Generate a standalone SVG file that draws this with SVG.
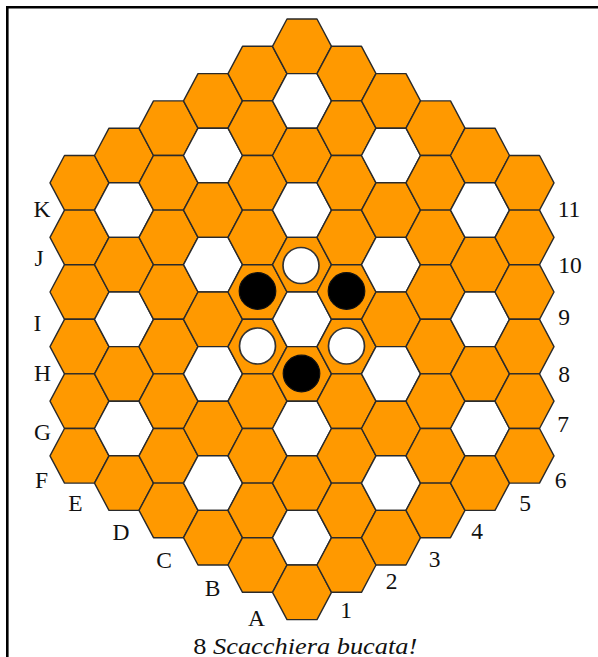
<svg xmlns="http://www.w3.org/2000/svg" xmlns:xlink="http://www.w3.org/1999/xlink" width="598" height="657" viewBox="0 0 598 657">
<style>
.cell{fill:#FF9900;stroke:#2a2a2a;stroke-width:1.4;stroke-linejoin:round}
.hole{fill:#FFFFFF;stroke:#2a2a2a;stroke-width:1.4;stroke-linejoin:round}
.bs{fill:#000000;stroke:#111;stroke-width:1.2}
.ws{fill:#FFFFFF;stroke:#333;stroke-width:1.7}
.lbl{font-family:"Liberation Serif","DejaVu Serif",serif;font-size:23.5px;fill:#111;text-anchor:middle}
.cap{font-family:"Liberation Serif","DejaVu Serif",serif;font-size:24px;fill:#111;text-anchor:middle}
</style>
<defs>
<polygon id="hex" points="-29.5,0 -15,-27.3 15,-27.3 29.5,0 15,27.3 -15,27.3"/>
</defs>
<path id="frame" d="M7.3,657 V7.3 H598" fill="none" stroke="#000" stroke-width="2.6"/>
<g id="board">
<g id="col-m5">
<use href="#hex" class="cell" x="79.5" y="182.8"/><use href="#hex" class="cell" x="79.5" y="237.4"/><use href="#hex" class="cell" x="79.5" y="292.0"/><use href="#hex" class="cell" x="79.5" y="346.6"/><use href="#hex" class="cell" x="79.5" y="401.2"/><use href="#hex" class="cell" x="79.5" y="455.8"/>
</g>
<g id="col-m4">
<use href="#hex" class="cell" x="124" y="155.5"/><use href="#hex" class="hole" x="124" y="210.1"/><use href="#hex" class="cell" x="124" y="264.7"/><use href="#hex" class="hole" x="124" y="319.3"/><use href="#hex" class="cell" x="124" y="373.9"/><use href="#hex" class="hole" x="124" y="428.5"/><use href="#hex" class="cell" x="124" y="483.1"/>
</g>
<g id="col-m3">
<use href="#hex" class="cell" x="168.5" y="128.2"/><use href="#hex" class="cell" x="168.5" y="182.8"/><use href="#hex" class="cell" x="168.5" y="237.4"/><use href="#hex" class="cell" x="168.5" y="292.0"/><use href="#hex" class="cell" x="168.5" y="346.6"/><use href="#hex" class="cell" x="168.5" y="401.2"/><use href="#hex" class="cell" x="168.5" y="455.8"/><use href="#hex" class="cell" x="168.5" y="510.4"/>
</g>
<g id="col-m2">
<use href="#hex" class="cell" x="213" y="100.9"/><use href="#hex" class="hole" x="213" y="155.5"/><use href="#hex" class="cell" x="213" y="210.1"/><use href="#hex" class="hole" x="213" y="264.7"/><use href="#hex" class="cell" x="213" y="319.3"/><use href="#hex" class="hole" x="213" y="373.9"/><use href="#hex" class="cell" x="213" y="428.5"/><use href="#hex" class="hole" x="213" y="483.1"/><use href="#hex" class="cell" x="213" y="537.7"/>
</g>
<g id="col-m1">
<use href="#hex" class="cell" x="257.5" y="73.6"/><use href="#hex" class="cell" x="257.5" y="128.2"/><use href="#hex" class="cell" x="257.5" y="182.8"/><use href="#hex" class="cell" x="257.5" y="237.4"/><use href="#hex" class="cell" x="257.5" y="292.0"/><use href="#hex" class="cell" x="257.5" y="346.6"/><use href="#hex" class="cell" x="257.5" y="401.2"/><use href="#hex" class="cell" x="257.5" y="455.8"/><use href="#hex" class="cell" x="257.5" y="510.4"/><use href="#hex" class="cell" x="257.5" y="565.0"/>
</g>
<g id="col-0">
<use href="#hex" class="cell" x="302" y="46.3"/><use href="#hex" class="hole" x="302" y="100.9"/><use href="#hex" class="cell" x="302" y="155.5"/><use href="#hex" class="hole" x="302" y="210.1"/><use href="#hex" class="cell" x="302" y="264.7"/><use href="#hex" class="hole" x="302" y="319.3"/><use href="#hex" class="cell" x="302" y="373.9"/><use href="#hex" class="hole" x="302" y="428.5"/><use href="#hex" class="cell" x="302" y="483.1"/><use href="#hex" class="hole" x="302" y="537.7"/><use href="#hex" class="cell" x="302" y="592.3"/>
</g>
<g id="col-p1">
<use href="#hex" class="cell" x="346.5" y="73.6"/><use href="#hex" class="cell" x="346.5" y="128.2"/><use href="#hex" class="cell" x="346.5" y="182.8"/><use href="#hex" class="cell" x="346.5" y="237.4"/><use href="#hex" class="cell" x="346.5" y="292.0"/><use href="#hex" class="cell" x="346.5" y="346.6"/><use href="#hex" class="cell" x="346.5" y="401.2"/><use href="#hex" class="cell" x="346.5" y="455.8"/><use href="#hex" class="cell" x="346.5" y="510.4"/><use href="#hex" class="cell" x="346.5" y="565.0"/>
</g>
<g id="col-p2">
<use href="#hex" class="cell" x="391" y="100.9"/><use href="#hex" class="hole" x="391" y="155.5"/><use href="#hex" class="cell" x="391" y="210.1"/><use href="#hex" class="hole" x="391" y="264.7"/><use href="#hex" class="cell" x="391" y="319.3"/><use href="#hex" class="hole" x="391" y="373.9"/><use href="#hex" class="cell" x="391" y="428.5"/><use href="#hex" class="hole" x="391" y="483.1"/><use href="#hex" class="cell" x="391" y="537.7"/>
</g>
<g id="col-p3">
<use href="#hex" class="cell" x="435.5" y="128.2"/><use href="#hex" class="cell" x="435.5" y="182.8"/><use href="#hex" class="cell" x="435.5" y="237.4"/><use href="#hex" class="cell" x="435.5" y="292.0"/><use href="#hex" class="cell" x="435.5" y="346.6"/><use href="#hex" class="cell" x="435.5" y="401.2"/><use href="#hex" class="cell" x="435.5" y="455.8"/><use href="#hex" class="cell" x="435.5" y="510.4"/>
</g>
<g id="col-p4">
<use href="#hex" class="cell" x="480" y="155.5"/><use href="#hex" class="hole" x="480" y="210.1"/><use href="#hex" class="cell" x="480" y="264.7"/><use href="#hex" class="hole" x="480" y="319.3"/><use href="#hex" class="cell" x="480" y="373.9"/><use href="#hex" class="hole" x="480" y="428.5"/><use href="#hex" class="cell" x="480" y="483.1"/>
</g>
<g id="col-p5">
<use href="#hex" class="cell" x="524.5" y="182.8"/><use href="#hex" class="cell" x="524.5" y="237.4"/><use href="#hex" class="cell" x="524.5" y="292.0"/><use href="#hex" class="cell" x="524.5" y="346.6"/><use href="#hex" class="cell" x="524.5" y="401.2"/><use href="#hex" class="cell" x="524.5" y="455.8"/>
</g>
</g>
<g id="stones">
<circle id="stone-w1" class="ws" cx="301" cy="265.5" r="18"/>
<circle id="stone-b1" class="bs" cx="257.5" cy="291" r="18.3"/>
<circle id="stone-b2" class="bs" cx="346.5" cy="291" r="18.3"/>
<circle id="stone-w2" class="ws" cx="257.5" cy="346" r="18"/>
<circle id="stone-w3" class="ws" cx="346.5" cy="346" r="18"/>
<circle id="stone-b3" class="bs" cx="301.5" cy="373.5" r="18.3"/>
</g>
<g id="labels">
<text class="lbl" x="42" y="217">K</text>
<text class="lbl" x="39" y="266">J</text>
<text class="lbl" x="37.5" y="331">I</text>
<text class="lbl" x="42.5" y="381">H</text>
<text class="lbl" x="42.5" y="440">G</text>
<text class="lbl" x="41.5" y="488">F</text>
<text class="lbl" x="75.5" y="511">E</text>
<text class="lbl" x="121" y="540">D</text>
<text class="lbl" x="164" y="568">C</text>
<text class="lbl" x="212.5" y="596">B</text>
<text class="lbl" x="256.5" y="626">A</text>
<text class="lbl" x="569" y="217">11</text>
<text class="lbl" x="570" y="273">10</text>
<text class="lbl" x="564" y="325">9</text>
<text class="lbl" x="564" y="382">8</text>
<text class="lbl" x="563" y="432">7</text>
<text class="lbl" x="560.5" y="488">6</text>
<text class="lbl" x="525" y="511">5</text>
<text class="lbl" x="477" y="539">4</text>
<text class="lbl" x="434.5" y="567">3</text>
<text class="lbl" x="391.5" y="589">2</text>
<text class="lbl" x="346" y="618">1</text>
</g>
<text id="caption" class="cap" x="305.3" y="653.5" textLength="224" lengthAdjust="spacingAndGlyphs">8 <tspan font-style="italic">Scacchiera bucata!</tspan></text>
</svg>
